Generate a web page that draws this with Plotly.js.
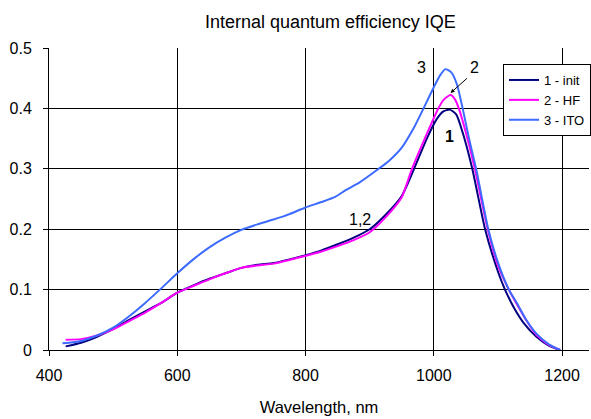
<!DOCTYPE html>
<html>
<head>
<meta charset="utf-8">
<script src="https://cdn.plot.ly/plotly-3.0.1.min.js"></script>
<style>html,body{margin:0;padding:0;background:#fff;}#chart{width:591px;height:419px;}</style>
</head>
<body>
<div id="chart"></div>
<script>
// Series 1 - init
const wl1 = [426,450,475,500,525,550,575,600,625,650,675,700,725,750,775,800,825,850,875,900,925,950,970,990,1005,1015,1025,1035,1045,1060,1080,1100,1111,1125,1140,1160,1180,1197];
const iqe1 = [0.006,0.012,0.022,0.035,0.050,0.064,0.078,0.095,0.107,0.118,0.127,0.136,0.141,0.144,0.150,0.157,0.165,0.175,0.186,0.200,0.224,0.255,0.302,0.352,0.383,0.395,0.398,0.390,0.360,0.300,0.200,0.130,0.100,0.070,0.045,0.022,0.007,0.000];
// Series 2 - HF
const wl2 = [426,450,475,500,525,550,575,600,625,650,675,700,725,750,775,800,825,850,875,900,925,950,966,990,1007,1016,1026,1033,1039,1050,1064,1084,1100,1117,1130,1145,1160,1180,1197];
const iqe2 = [0.017,0.018,0.024,0.034,0.048,0.062,0.078,0.095,0.106,0.117,0.127,0.136,0.140,0.143,0.149,0.156,0.163,0.172,0.182,0.195,0.220,0.253,0.300,0.360,0.400,0.415,0.422,0.415,0.400,0.360,0.300,0.200,0.140,0.100,0.075,0.048,0.025,0.008,0.000];
// Series 3 - ITO
const wl3 = [421,450,475,500,525,550,575,600,625,650,675,700,725,750,775,800,825,847,863,885,914,930,950,970,984,1000,1010,1018,1027,1036,1045,1055,1066,1085,1100,1117,1130,1144,1160,1180,1197];
const iqe3 = [0.011,0.015,0.024,0.037,0.056,0.078,0.102,0.127,0.150,0.170,0.186,0.199,0.208,0.216,0.225,0.236,0.245,0.254,0.265,0.278,0.300,0.313,0.335,0.370,0.400,0.435,0.455,0.465,0.460,0.440,0.400,0.350,0.300,0.200,0.145,0.100,0.077,0.050,0.027,0.009,0.000];

const names = ['1 - init','2 - HF','3 - ITO'];
const colors = ['#000080','#FF00FF','#3D6BFF'];
const xTicks = [400,600,800,1000,1200];
const yTicks = [0,0.1,0.2,0.3,0.4,0.5];
const yTickText = ['0','0.1','0.2','0.3','0.4','0.5'];

const font = 'Arial, "Liberation Sans", sans-serif';
const mk = (x,y,i) => ({x:x,y:y,name:names[i],type:'scatter',mode:'lines',
  line:{color:colors[i],width:2,shape:'spline',smoothing:0.6}});
const data = [mk(wl1,iqe1,0), mk(wl2,iqe2,1), mk(wl3,iqe3,2)];

const layout = {
  width:591,height:419,
  margin:{l:49,r:0,t:48,b:69},
  paper_bgcolor:'#fff',plot_bgcolor:'#fff',
  font:{family:font,size:16,color:'#000'},
  title:{text:'Internal quantum efficiency IQE',font:{family:font,size:18,color:'#000'},
    x:308/591,xref:'paper',xanchor:'center',y:1-22/419,yref:'container',yanchor:'middle'},
  xaxis:{range:[400,1242],tickvals:xTicks,ticktext:xTicks.map(String),showgrid:true,gridcolor:'#000',gridwidth:1,
    showline:true,linecolor:'#000',linewidth:1,ticks:'outside',ticklen:5,tickcolor:'#000',zeroline:false,
    ticklabelstandoff:6,
    tickfont:{family:font,size:16},title:{text:'Wavelength, nm',font:{family:font,size:16.5},standoff:18}},
  yaxis:{range:[0,0.5],tickvals:yTicks,ticktext:yTickText,showgrid:true,gridcolor:'#000',gridwidth:1,
    showline:true,linecolor:'#000',linewidth:1,ticks:'outside',ticklen:5,tickcolor:'#000',zeroline:false,
    ticklabelstandoff:8,
    tickfont:{family:font,size:16}},
  legend:{x:0.841,y:0.947,xanchor:'left',yanchor:'top',bgcolor:'#fff',bordercolor:'#000',borderwidth:1,
    font:{family:font,size:13},tracegroupgap:0,itemwidth:30},
  showlegend:true,
  annotations:[
    {x:981,y:0.467,text:'3',showarrow:false,font:{family:font,size:16}},
    {x:1063.5,y:0.467,text:'2',showarrow:false,font:{family:font,size:16}},
    {x:1026.2,y:0.4255,ax:1054,ay:0.452,axref:'x',ayref:'y',text:'',showarrow:true,arrowhead:2,arrowsize:0.8,arrowwidth:1,arrowcolor:'#000'},
    {x:1024.7,y:0.353,text:'<b>1</b>',showarrow:false,font:{family:font,size:16}},
    {x:884.6,y:0.2164,text:'1,2',showarrow:false,font:{family:font,size:16}}
  ]
};
Plotly.newPlot('chart',data,layout,{displayModeBar:false,staticPlot:true});
</script>
</body>
</html>
